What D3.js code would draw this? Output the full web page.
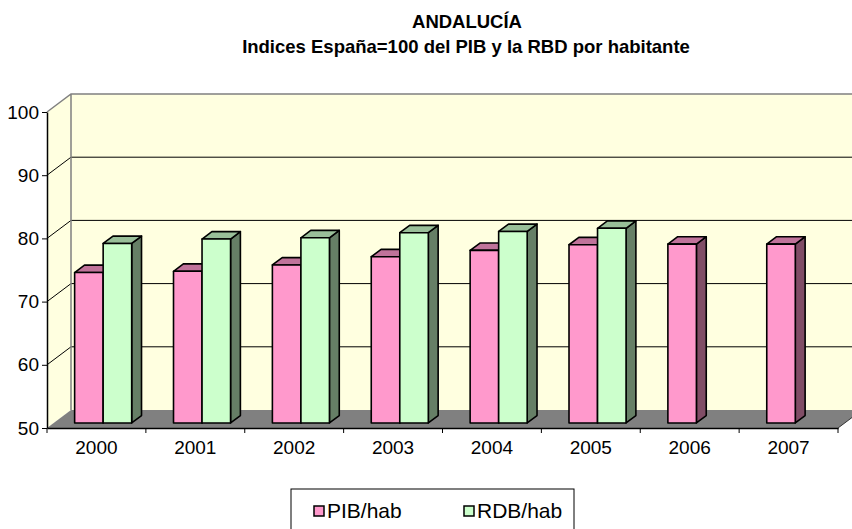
<!DOCTYPE html>
<html><head><meta charset="utf-8">
<script src="https://cdn.jsdelivr.net/npm/d3@7"></script>
<style>body{margin:0;background:#fff}svg{display:block}text{font-family:Arial,"Liberation Sans",sans-serif}</style>
</head><body><svg id="c" width="852" height="529"></svg>
<script>
const categories = ["2000","2001","2002","2003","2004","2005","2006","2007"];
const pibValues = [73.8,74.0,75.0,76.3,77.3,78.2,78.3,78.3];
const rdbValues = [78.4,79.1,79.3,80.1,80.3,80.8,null,null];
const seriesNames = ["PIB/hab","RDB/hab"];
const yTicks = [50,60,70,80,90,100];
const titleText = "ANDALUCÍA";
const subtitleText = "Indices España=100 del PIB y la RBD por habitante";

const fills = {front:["#FF99CC","#CCFFCC"], side:["#804D66","#667F66"], top:["#C0739A","#99BF99"]};
const svg = d3.select("#c");
const L = 47, R = 838, T = 112, B = 428;
const DX = 24, DY = -18;
const x = d3.scaleBand().domain(categories).range([L, R]);
const y = d3.scaleLinear().domain([50, 100]).range([B, T]);
const bw = x.bandwidth();
const groupW = bw * 0.577;
const sub = d3.scaleBand().domain([0,1]).range([(bw-groupW)/2, (bw+groupW)/2]);
const f0 = 0.28, fd = 0.41;
const wallFill = "#FFFFE0";
const backR = R + DX;
const FONT = "Arial, 'Liberation Sans', sans-serif";

// walls
svg.append("polygon").attr("points", [[L,y(100)],[L+DX,y(100)+DY],[L+DX,y(50)+DY],[L,y(50)]].join(" ")).attr("fill", wallFill);
svg.append("rect").attr("x", L+DX).attr("y", y(100)+DY).attr("width", backR-(L+DX)).attr("height", y(50)-y(100)).attr("fill", wallFill);
svg.append("polygon").attr("points", [[L,y(50)],[L+DX,y(50)+DY],[backR,y(50)+DY],[R,y(50)]].join(" ")).attr("fill", "#808080");

// gridlines
const grid = yTicks.filter(t => t > 50 && t < 100);
svg.selectAll(".gb").data(grid).join("line").attr("x1", L+DX).attr("x2", backR)
  .attr("y1", d => y(d)+DY).attr("y2", d => y(d)+DY).attr("stroke", "#000").attr("stroke-width", 1);
svg.selectAll(".gs").data(grid).join("line").attr("x1", L).attr("x2", L+DX)
  .attr("y1", d => y(d)).attr("y2", d => y(d)+DY).attr("stroke", "#000").attr("stroke-width", 1);
// wall borders
svg.append("path").attr("d", `M${L},${y(100)}L${L+DX},${y(100)+DY}L${backR},${y(100)+DY}M${L+DX},${y(100)+DY}L${L+DX},${y(50)+DY}`)
  .attr("fill","none").attr("stroke","#808080").attr("stroke-width",1.5);

// bars
const data = [];
categories.forEach((c,i) => {
  [pibValues[i], rdbValues[i]].forEach((v,s) => { if (v != null) data.push({c, s, v}); });
});
const bdx = DX*fd, bdy = DY*fd;
const g = svg.append("g");
data.forEach(d => {
  const w = sub.bandwidth();
  const x0 = x(d.c) + sub(d.s) + f0*DX;
  const yt = y(d.v) + f0*DY, yb = y(50) + f0*DY;
  const gg = g.append("g").attr("stroke","#000").attr("stroke-width",1.6).attr("stroke-linejoin","round");
  gg.append("polygon").attr("points", [[x0+w,yt],[x0+w+bdx,yt+bdy],[x0+w+bdx,yb+bdy],[x0+w,yb]].join(" ")).attr("fill", fills.side[d.s]);
  gg.append("polygon").attr("points", [[x0,yt],[x0+bdx,yt+bdy],[x0+w+bdx,yt+bdy],[x0+w,yt]].join(" ")).attr("fill", fills.top[d.s]);
  gg.append("rect").attr("x", x0).attr("y", yt).attr("width", w).attr("height", yb-yt).attr("fill", fills.front[d.s]);
});

// axes
const ya = svg.append("g").attr("transform", `translate(${L},0)`)
  .call(d3.axisLeft(y).tickValues(yTicks).tickSize(5).tickSizeOuter(0).tickPadding(3));
ya.select(".domain").attr("stroke","#000").attr("stroke-width",1.5);
ya.selectAll("text").attr("font-size",19).attr("fill","#000").attr("font-family",FONT);

const xa = svg.append("g").attr("transform", `translate(0,${B})`)
  .call(d3.axisBottom(x).tickSize(0).tickPadding(13).tickSizeOuter(0));
xa.select(".domain").attr("stroke","#000").attr("stroke-width",1.5);
xa.selectAll("text").attr("font-size",19).attr("fill","#000").attr("font-family",FONT);
const bounds = categories.map(c => x(c)).concat([R]);
svg.selectAll(".bt").data(bounds).join("line").attr("x1", d=>d).attr("x2", d=>d)
  .attr("y1", B).attr("y2", B+5).attr("stroke","#000").attr("stroke-width",1);
svg.append("line").attr("x1", R).attr("y1", B).attr("x2", backR).attr("y2", B+DY).attr("stroke","#333").attr("stroke-width",1);

// title
svg.append("text").attr("x", 467).attr("y", 28).attr("text-anchor","middle").attr("font-weight","bold").attr("font-size",18.5).text(titleText);
svg.append("text").attr("x", 466).attr("y", 53).attr("text-anchor","middle").attr("font-weight","bold").attr("font-size",18.5).text(subtitleText);

// legend
svg.append("rect").attr("x",291).attr("y",489).attr("width",283).attr("height",60).attr("fill","#fff").attr("stroke","#000").attr("stroke-width",1);
const lg = svg.selectAll(".lg").data(seriesNames).join("g").attr("transform", (d,i) => `translate(${i ? 464 : 314},0)`);
lg.append("rect").attr("x",0).attr("y",506).attr("width",10).attr("height",10).attr("fill",(d,i)=>fills.front[i]).attr("stroke","#000").attr("stroke-width",1.5);
lg.append("text").attr("x",13).attr("y",518).attr("font-size",21).text(d=>d);
</script></body></html>
